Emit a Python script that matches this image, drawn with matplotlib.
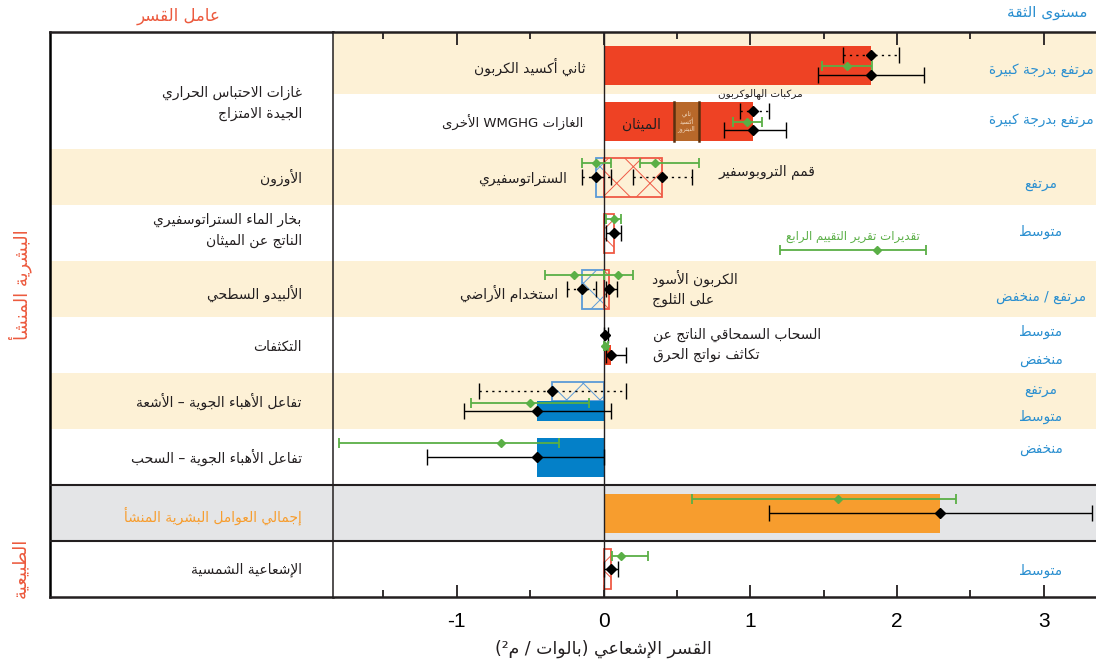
import re
import numpy as np
import matplotlib
matplotlib.use("Agg")
import matplotlib.pyplot as plt

# ---------------------------------------------------------------------------
# Arabic shaping: contextual presentation forms + right-to-left visual order
# ---------------------------------------------------------------------------
# (isolated, final, initial, medial)
FORMS = {
    "\u0621": ("\uFE80", None, None, None),
    "\u0622": ("\uFE81", "\uFE82", None, None),
    "\u0623": ("\uFE83", "\uFE84", None, None),
    "\u0624": ("\uFE85", "\uFE86", None, None),
    "\u0625": ("\uFE87", "\uFE88", None, None),
    "\u0626": ("\uFE89", "\uFE8A", "\uFE8B", "\uFE8C"),
    "\u0627": ("\uFE8D", "\uFE8E", None, None),
    "\u0628": ("\uFE8F", "\uFE90", "\uFE91", "\uFE92"),
    "\u0629": ("\uFE93", "\uFE94", None, None),
    "\u062A": ("\uFE95", "\uFE96", "\uFE97", "\uFE98"),
    "\u062B": ("\uFE99", "\uFE9A", "\uFE9B", "\uFE9C"),
    "\u062C": ("\uFE9D", "\uFE9E", "\uFE9F", "\uFEA0"),
    "\u062D": ("\uFEA1", "\uFEA2", "\uFEA3", "\uFEA4"),
    "\u062E": ("\uFEA5", "\uFEA6", "\uFEA7", "\uFEA8"),
    "\u062F": ("\uFEA9", "\uFEAA", None, None),
    "\u0630": ("\uFEAB", "\uFEAC", None, None),
    "\u0631": ("\uFEAD", "\uFEAE", None, None),
    "\u0632": ("\uFEAF", "\uFEB0", None, None),
    "\u0633": ("\uFEB1", "\uFEB2", "\uFEB3", "\uFEB4"),
    "\u0634": ("\uFEB5", "\uFEB6", "\uFEB7", "\uFEB8"),
    "\u0635": ("\uFEB9", "\uFEBA", "\uFEBB", "\uFEBC"),
    "\u0636": ("\uFEBD", "\uFEBE", "\uFEBF", "\uFEC0"),
    "\u0637": ("\uFEC1", "\uFEC2", "\uFEC3", "\uFEC4"),
    "\u0638": ("\uFEC5", "\uFEC6", "\uFEC7", "\uFEC8"),
    "\u0639": ("\uFEC9", "\uFECA", "\uFECB", "\uFECC"),
    "\u063A": ("\uFECD", "\uFECE", "\uFECF", "\uFED0"),
    "\u0641": ("\uFED1", "\uFED2", "\uFED3", "\uFED4"),
    "\u0642": ("\uFED5", "\uFED6", "\uFED7", "\uFED8"),
    "\u0643": ("\uFED9", "\uFEDA", "\uFEDB", "\uFEDC"),
    "\u0644": ("\uFEDD", "\uFEDE", "\uFEDF", "\uFEE0"),
    "\u0645": ("\uFEE1", "\uFEE2", "\uFEE3", "\uFEE4"),
    "\u0646": ("\uFEE5", "\uFEE6", "\uFEE7", "\uFEE8"),
    "\u0647": ("\uFEE9", "\uFEEA", "\uFEEB", "\uFEEC"),
    "\u0648": ("\uFEED", "\uFEEE", None, None),
    "\u0649": ("\uFEEF", "\uFEF0", None, None),
    "\u064A": ("\uFEF1", "\uFEF2", "\uFEF3", "\uFEF4"),
}
LAM_ALEF = {"\u0622": ("\uFEF5", "\uFEF6"), "\u0623": ("\uFEF7", "\uFEF8"),
            "\u0625": ("\uFEF9", "\uFEFA"), "\u0627": ("\uFEFB", "\uFEFC")}
MIRROR = str.maketrans("()", ")(")


def _shape(text):
    toks, i = [], 0
    while i < len(text):
        c = text[i]
        if c == "\u0644" and i + 1 < len(text) and text[i + 1] in LAM_ALEF:
            toks.append(("LA", text[i + 1]))
            i += 2
        else:
            toks.append((c, None))
            i += 1

    def joins_next(t):
        return t[0] != "LA" and t[0] in FORMS and FORMS[t[0]][2] is not None

    def joins_prev(t):
        return t[0] == "LA" or (t[0] in FORMS and FORMS[t[0]][1] is not None)

    out = []
    for k, t in enumerate(toks):
        p = k > 0 and joins_next(toks[k - 1]) and joins_prev(t)
        n = k + 1 < len(toks) and joins_next(t) and joins_prev(toks[k + 1])
        if t[0] == "LA":
            out.append(LAM_ALEF[t[1]][1 if p else 0])
        elif t[0] in FORMS:
            iso, fin, ini, med = FORMS[t[0]]
            out.append(med if (p and n) else fin if p else ini if n else iso)
        else:
            out.append(t[0])
    return "".join(out)


def ar(text):
    lines = []
    for line in text.split("\n"):
        s = _shape(line)
        runs = re.findall(r"[A-Za-z0-9\u00B2.]+|[^A-Za-z0-9\u00B2.]+", s)
        vis = []
        for r in reversed(runs):
            if re.match(r"[A-Za-z0-9\u00B2]", r):
                vis.append(r)
            else:
                vis.append(r[::-1].translate(MIRROR))
        lines.append("".join(vis))
    return "\n".join(lines)


# ---------------------------------------------------------------------------
# Data: radiative forcing, W m-2  [best estimate, low, high]
# ---------------------------------------------------------------------------
row_labels = [
    "غازات الاحتباس الحراري\nالجيدة الامتزاج",
    "",
    "الأوزون",
    "بخار الماء الستراتوسفيري\nالناتج عن الميثان",
    "الألبيدو السطحي",
    "التكثفات",
    "تفاعل الأهباء الجوية – الأشعة",
    "تفاعل الأهباء الجوية – السحب",
    "إجمالي العوامل البشرية المنشأ",
    "الإشعاعية الشمسية",
]
confidence = [
    ["مرتفع بدرجة كبيرة"],
    ["مرتفع بدرجة كبيرة"],
    ["مرتفع"],
    ["متوسط"],
    ["مرتفع / منخفض"],
    ["متوسط", "منخفض"],
    ["مرتفع", "متوسط"],
    ["منخفض"],
    [],
    ["متوسط"],
]

co2_rf = [1.82, 1.63, 2.01]
co2_erf = [1.82, 1.46, 2.18]
co2_ar4 = [1.66, 1.49, 1.83]

wmghg_parts = [0.48, 0.17, 0.37]          # methane, nitrous oxide, halocarbons
wmghg_rf = [1.02, 0.93, 1.13]
wmghg_erf = [1.02, 0.82, 1.24]
wmghg_ar4 = [0.98, 0.88, 1.08]

o3_strat_rf = [-0.05, -0.15, 0.05]
o3_trop_rf = [0.40, 0.20, 0.60]
o3_strat_ar4 = [-0.05, -0.15, 0.05]
o3_trop_ar4 = [0.35, 0.25, 0.65]

h2o_rf = [0.07, 0.02, 0.12]
h2o_ar4 = [0.07, 0.02, 0.12]

landuse_rf = [-0.15, -0.25, -0.05]
bcsnow_rf = [0.04, 0.02, 0.09]
landuse_ar4 = [-0.20, -0.40, 0.00]
bcsnow_ar4 = [0.10, 0.00, 0.20]

contrail_rf = [0.01, 0.005, 0.03]
contrail_ar4 = [0.01, 0.003, 0.03]
cirrus_erf = [0.05, 0.02, 0.15]

ari_rf = [-0.35, -0.85, 0.15]
ari_erf = [-0.45, -0.95, 0.05]
ari_ar4 = [-0.50, -0.90, -0.10]

aci_erf = [-0.45, -1.20, 0.00]
aci_ar4 = [-0.70, -1.80, -0.30]

total_erf = [2.29, 1.13, 3.33]
total_ar4 = [1.60, 0.60, 2.40]

solar_rf = [0.05, 0.00, 0.10]
solar_ar4 = [0.12, 0.06, 0.30]

x_ticks = [-1, 0, 1, 2, 3]

# ---------------------------------------------------------------------------
# Styling
# ---------------------------------------------------------------------------
plt.rcParams["font.family"] = ["DejaVu Sans"]
plt.rcParams["axes.unicode_minus"] = False
plt.rcParams["hatch.linewidth"] = 0.7

BEIGE = "#fdf1d6"
GREY = "#e4e5e7"
RED = "#ee4224"
RED_H = "#ef5a45"
BLUE = "#0480c8"
BLUE_H = "#5b9ad6"
BROWN = "#b8682a"
ORANGE = "#f79d2e"
GREEN = "#5aaf46"
CONF = "#2a8fd0"
HEAD_RED = "#ec5a3e"
TXT = "#231f20"

W, H = 1096, 665
fig = plt.figure(figsize=(W / 100, H / 100), dpi=100)

top_px, bot_px = 32, 597
left_px, div_px = 50, 333
axL = fig.add_axes([left_px / W, 1 - bot_px / H, (div_px - left_px) / W, (bot_px - top_px) / H])
axP = fig.add_axes([div_px / W, 1 - bot_px / H, (W - div_px) / W + 0.002, (bot_px - top_px) / H],
                   sharey=axL)

Y0, Y1 = -0.6, 9.5
axL.set_ylim(Y1, Y0)
axP.set_xlim(-1.843, 3.37)
axL.set_xlim(0, 1)

# row bands
for ax, rows in ((axP, [0, 2, 4, 6]), (axL, [2, 4, 6])):
    for i in rows:
        ax.axhspan(Y0 if i == 0 else i - 0.5, i + 0.5, color=BEIGE, lw=0, zorder=0)
    ax.axhspan(7.5, 8.5, color=GREY, lw=0, zorder=0)
    ax.axhline(7.5, color=TXT, lw=1.5, zorder=6)
    ax.axhline(8.5, color=TXT, lw=1.5, zorder=6)

for ax in (axL, axP):
    for s in ("top", "bottom"):
        ax.spines[s].set_linewidth(1.8)
        ax.spines[s].set_color(TXT)
axL.spines["left"].set_linewidth(1.8)
axL.spines["right"].set_visible(False)
axP.spines["left"].set_linewidth(1.1)
axP.spines["left"].set_color(TXT)
axP.spines["right"].set_visible(False)
axL.set_xticks([])
axL.tick_params(left=False, labelleft=False)
axP.tick_params(left=False, labelleft=False)

axP.set_xticks(x_ticks)
axP.set_xticks([v + 0.5 for v in [-2] + x_ticks if -1.843 < v + 0.5 < 3.37], minor=True)
axP.tick_params(axis="x", which="both", direction="in", top=True, bottom=True,
                width=1.3, color=TXT, labelsize=15, pad=11)
axP.tick_params(axis="x", which="major", length=9)
axP.tick_params(axis="x", which="minor", length=5)
for lab in axP.get_xticklabels():
    lab.set_fontfamily("Liberation Sans")

axP.axvline(0, color=TXT, lw=1.0, zorder=4)


# ---------------------------------------------------------------------------
# Drawing helpers
# ---------------------------------------------------------------------------
def whisker(y, vals, color="black", dotted=False, cap=6.0, ms=4.6, lw=1.0):
    est, lo, hi = vals
    eb = axP.errorbar([est], [y], xerr=[[est - lo], [hi - est]], fmt="D", color=color,
                      ms=ms, mec=color, mfc=color, ecolor=color, elinewidth=lw,
                      capsize=cap, capthick=lw, zorder=7)
    if dotted:
        eb[2][0].set_linestyle((0, (1.6, 3.0)))
    return eb


def solid_bar(y, left, width, h, color, **kw):
    axP.barh(y, width, left=left, height=h, color=color, lw=0, zorder=3, **kw)


def hatched_bar(y, left, width, h, color):
    axP.barh(y, width, left=left, height=h, facecolor="none", edgecolor=color,
             hatch="x", lw=1.3, zorder=3)


def green(y, vals):
    whisker(y, vals, color=GREEN, cap=3.5, ms=4.2, lw=1.3)


BH = 0.70   # full box height (row units)

# CO2
solid_bar(0, 0, co2_rf[0], BH, RED)
whisker(-0.18, co2_rf, dotted=True)
green(0.01, co2_ar4)
whisker(0.16, co2_erf)

# other well-mixed GHGs: stacked components
starts = np.concatenate([[0], np.cumsum(wmghg_parts)[:-1]])
for k, (s, w) in enumerate(zip(starts, wmghg_parts)):
    solid_bar(1, s, w, BH, BROWN if k == 1 else RED)
for edge in (starts[1], starts[1] + wmghg_parts[1]):
    axP.plot([edge, edge], [1 - BH / 2, 1 + BH / 2], color="#5a300f", lw=1.8, zorder=4)
whisker(1 - 0.19, wmghg_rf, dotted=True)
green(1.0, wmghg_ar4)
whisker(1 + 0.15, wmghg_erf)

# ozone
hatched_bar(2, o3_strat_rf[0], -o3_strat_rf[0], BH, BLUE_H)
hatched_bar(2, 0, o3_trop_rf[0], BH, RED_H)
green(2 - 0.26, o3_strat_ar4)
green(2 - 0.26, o3_trop_ar4)
whisker(2.0, o3_strat_rf, dotted=True)
whisker(2.0, o3_trop_rf, dotted=True)

# stratospheric water vapour
hatched_bar(3, 0, h2o_rf[0], BH, RED_H)
green(3 - 0.26, h2o_ar4)
whisker(3.0, h2o_rf)

# surface albedo
hatched_bar(4, landuse_rf[0], -landuse_rf[0], BH, BLUE_H)
hatched_bar(4, 0, bcsnow_rf[0], BH, RED_H)
green(4 - 0.26, landuse_ar4)
green(4 - 0.26, bcsnow_ar4)
whisker(4.0, landuse_rf, dotted=True)
whisker(4.0, bcsnow_rf)

# contrails and contrail-induced cirrus
solid_bar(5 - BH / 4, 0, contrail_rf[0], BH / 2, RED)
solid_bar(5 + BH / 4, 0, cirrus_erf[0], BH / 2, RED)
whisker(5 - 0.18, contrail_rf)
green(5 + 0.02, contrail_ar4)
whisker(5 + 0.17, cirrus_erf)

# aerosol-radiation interaction
hatched_bar(6 - BH / 4, ari_rf[0], -ari_rf[0], BH / 2, BLUE_H)
solid_bar(6 + BH / 4, ari_erf[0], -ari_erf[0], BH / 2, BLUE)
whisker(6 - 0.185, ari_rf, dotted=True)
green(6 + 0.025, ari_ar4)
whisker(6 + 0.175, ari_erf)

# aerosol-cloud interaction
solid_bar(7, aci_erf[0], -aci_erf[0], BH, BLUE)
green(7 - 0.25, aci_ar4)
whisker(7.0, aci_erf)

# total anthropogenic
solid_bar(8, 0, total_erf[0], BH, ORANGE)
green(8 - 0.25, total_ar4)
whisker(8.0, total_erf)

# solar irradiance
hatched_bar(9, 0, solar_rf[0], BH, RED_H)
green(9 - 0.24, solar_ar4)
whisker(9.0, solar_rf)

# ---------------------------------------------------------------------------
# Text
# ---------------------------------------------------------------------------
FS = 10
ylab = axL.get_yaxis_transform()
label_y = [0.68, None, 2.0, 2.95, 4.08, 5.03, 6.01, 7.0, 8.05, 9.02]
for i, (lab, yy) in enumerate(zip(row_labels, label_y)):
    if not lab:
        continue
    axL.text(0.89, yy, ar(lab), transform=ylab, ha="right", va="center", fontsize=FS,
             color=ORANGE if i == 8 else TXT, linespacing=1.6, multialignment="right")

conf_y = [[0.08], [0.97], [2.12], [2.97], [4.14], [4.76, 5.26], [5.8, 6.28], [6.85], [], [9.04]]
for texts, ys in zip(confidence, conf_y):
    for t, yy in zip(texts, ys):
        axP.text(2.98, yy, ar(t), ha="center", va="center", fontsize=9.8, color=CONF)

# labels inside the plotting area
axP.text(-0.125, 0.02, ar("ثاني أكسيد الكربون"), ha="right", va="center", fontsize=FS, color=TXT)
axP.text(-0.14, 1.03, ar("الغازات WMGHG الأخرى"), ha="right", va="center", fontsize=FS - 0.5, color=TXT)
axP.text(wmghg_parts[0] / 2 + 0.02, 1.06, ar("الميثان"), ha="center", va="center", fontsize=FS, color=TXT, zorder=8)
axP.text(starts[1] + wmghg_parts[1] / 2, 1.0, ar("ثاني\nأكسيد\nالنيتروز"), ha="center", va="center",
         fontsize=4.2, color="#f3dcc4", linespacing=1.1, zorder=8)
axP.text(1.07, 0.5, ar("مركبات الهالوكربون"), ha="center", va="center", fontsize=7.5, color=TXT, zorder=8)
axP.text(-0.25, 2.02, ar("الستراتوسفيري"), ha="right", va="center", fontsize=FS, color=TXT)
axP.text(0.78, 1.9, ar("قمم التروبوسفير"), ha="left", va="center", fontsize=FS, color=TXT)
axP.text(0.33, 3.98, ar("الكربون الأسود\nعلى الثلوج"), ha="left", va="center", fontsize=FS,
         color=TXT, linespacing=1.5, multialignment="left")
axP.text(-0.31, 4.07, ar("استخدام الأراضي"), ha="right", va="center", fontsize=FS, color=TXT)
axP.text(0.34, 5.0, ar("السحاب السمحاقي الناتج عن\nتكاثف نواتج الحرق"), ha="left", va="center",
         fontsize=FS, color=TXT, linespacing=1.5, multialignment="left")

# AR4 key
axP.text(1.70, 3.05, ar("تقديرات تقرير التقييم الرابع"), ha="center", va="center", fontsize=8.5, color=GREEN)
axP.errorbar([1.865], [3.30], xerr=[[0.66], [0.335]], fmt="D", color=GREEN, ms=4.2,
             elinewidth=1.3, capsize=3.5, capthick=1.3, zorder=7)

# axis title and headers
axP.text(0.0, -0.092, ar("القسر الإشعاعي (بالوات / م\u00B2)"), transform=axP.get_xaxis_transform(),
         ha="center", va="center", fontsize=12.5, color=TXT)
fig.text(179 / W, 1 - 16 / H, ar("عامل القسر"), ha="center", va="center", fontsize=12, color=HEAD_RED)
fig.text(1047 / W, 1 - 12 / H, ar("مستوى الثقة"), ha="center", va="center", fontsize=11, color=CONF)
fig.text(20 / W, 1 - 285 / H, ar("البشرية المنشأ"), rotation=90, ha="center", va="center",
         fontsize=13, color=HEAD_RED)
fig.text(20 / W, 1 - 568 / H, ar("الطبيعية"), rotation=90, ha="center", va="center",
         fontsize=13, color=HEAD_RED)

fig.savefig("out.png", dpi=100)
